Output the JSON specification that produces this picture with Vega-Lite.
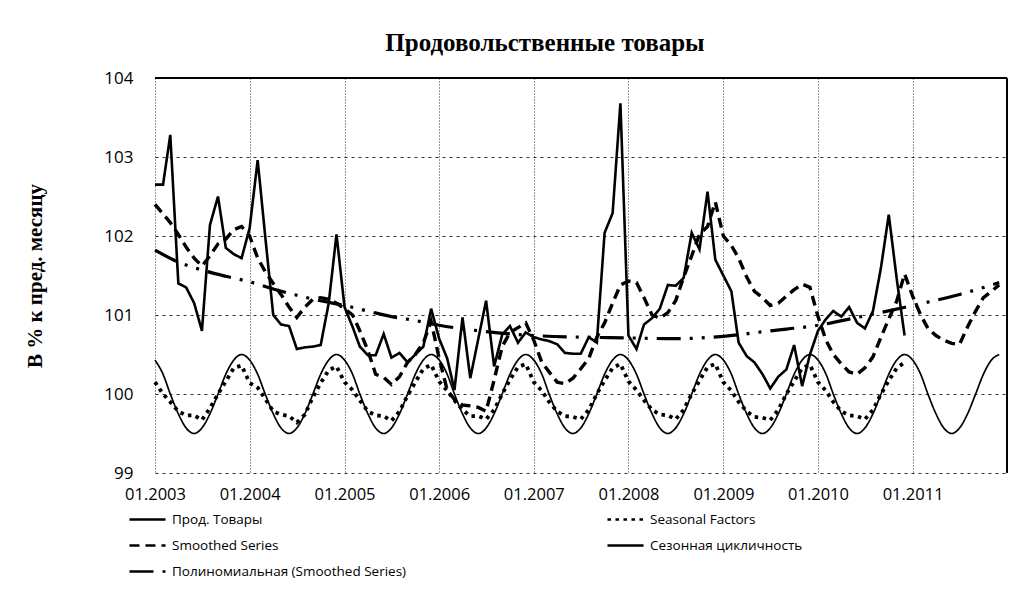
{
 "$schema": "https://vega.github.io/schema/vega-lite/v6.json",
 "width": 852, "height": 395,
 "autosize": {"type": "none"},
 "padding": {"left": 155, "top": 78, "right": 13, "bottom": 127},
 "background": "white",
 "title": {"text": "Продовольственные товары", "font": "Liberation Serif", "fontSize": 25, "fontWeight": "bold", "color": "#000", "anchor": "middle", "dx": -36, "offset": 13},
 "datasets": {
  "monthly": [
   {"m":"2003-01-01","p":102.65,"ss":102.40,"sf":100.15,"sc":100.43},
   {"m":"2003-02-01","p":102.65,"ss":102.28,"sf":100.0,"sc":100.25},
   {"m":"2003-03-01","p":103.28,"ss":102.17,"sf":99.9,"sc":100.0},
   {"m":"2003-04-01","p":101.4,"ss":102.02,"sf":99.78,"sc":99.75},
   {"m":"2003-05-01","p":101.35,"ss":101.86,"sf":99.73,"sc":99.57},
   {"m":"2003-06-01","p":101.15,"ss":101.72,"sf":99.73,"sc":99.5},
   {"m":"2003-07-01","p":100.8,"ss":101.62,"sf":99.67,"sc":99.57},
   {"m":"2003-08-01","p":102.14,"ss":101.75,"sf":99.82,"sc":99.75},
   {"m":"2003-09-01","p":102.5,"ss":101.9,"sf":100.0,"sc":100.0},
   {"m":"2003-10-01","p":101.85,"ss":101.96,"sf":100.16,"sc":100.25},
   {"m":"2003-11-01","p":101.77,"ss":102.08,"sf":100.33,"sc":100.43},
   {"m":"2003-12-01","p":101.72,"ss":102.12,"sf":100.36,"sc":100.5},
   {"m":"2004-01-01","p":102.1,"ss":102.0,"sf":100.14,"sc":100.43},
   {"m":"2004-02-01","p":102.96,"ss":101.72,"sf":100.08,"sc":100.25},
   {"m":"2004-03-01","p":102.0,"ss":101.55,"sf":99.94,"sc":100.0},
   {"m":"2004-04-01","p":101.0,"ss":101.4,"sf":99.78,"sc":99.75},
   {"m":"2004-05-01","p":100.88,"ss":101.26,"sf":99.74,"sc":99.57},
   {"m":"2004-06-01","p":100.86,"ss":101.1,"sf":99.72,"sc":99.5},
   {"m":"2004-07-01","p":100.57,"ss":100.97,"sf":99.64,"sc":99.57},
   {"m":"2004-08-01","p":100.59,"ss":101.1,"sf":99.74,"sc":99.75},
   {"m":"2004-09-01","p":100.6,"ss":101.2,"sf":99.96,"sc":100.0},
   {"m":"2004-10-01","p":100.62,"ss":101.22,"sf":100.14,"sc":100.25},
   {"m":"2004-11-01","p":101.15,"ss":101.2,"sf":100.3,"sc":100.43},
   {"m":"2004-12-01","p":102.02,"ss":101.15,"sf":100.35,"sc":100.5},
   {"m":"2005-01-01","p":101.1,"ss":101.08,"sf":100.15,"sc":100.43},
   {"m":"2005-02-01","p":100.85,"ss":101.0,"sf":100.05,"sc":100.25},
   {"m":"2005-03-01","p":100.6,"ss":100.8,"sf":99.92,"sc":100.0},
   {"m":"2005-04-01","p":100.49,"ss":100.55,"sf":99.78,"sc":99.75},
   {"m":"2005-05-01","p":100.49,"ss":100.25,"sf":99.73,"sc":99.57},
   {"m":"2005-06-01","p":100.76,"ss":100.21,"sf":99.72,"sc":99.5},
   {"m":"2005-07-01","p":100.46,"ss":100.12,"sf":99.66,"sc":99.57},
   {"m":"2005-08-01","p":100.52,"ss":100.22,"sf":99.78,"sc":99.75},
   {"m":"2005-09-01","p":100.4,"ss":100.4,"sf":99.98,"sc":100.0},
   {"m":"2005-10-01","p":100.5,"ss":100.5,"sf":100.15,"sc":100.25},
   {"m":"2005-11-01","p":100.6,"ss":100.65,"sf":100.32,"sc":100.43},
   {"m":"2005-12-01","p":101.08,"ss":100.92,"sf":100.37,"sc":100.5},
   {"m":"2006-01-01","p":100.7,"ss":100.45,"sf":100.16,"sc":100.43},
   {"m":"2006-02-01","p":100.45,"ss":100.05,"sf":100.04,"sc":100.25},
   {"m":"2006-03-01","p":100.05,"ss":99.93,"sf":99.92,"sc":100.0},
   {"m":"2006-04-01","p":100.97,"ss":99.86,"sf":99.8,"sc":99.75},
   {"m":"2006-05-01","p":100.2,"ss":99.85,"sf":99.72,"sc":99.57},
   {"m":"2006-06-01","p":100.7,"ss":99.83,"sf":99.72,"sc":99.5},
   {"m":"2006-07-01","p":101.18,"ss":99.78,"sf":99.68,"sc":99.57},
   {"m":"2006-08-01","p":100.35,"ss":100.18,"sf":99.8,"sc":99.75},
   {"m":"2006-09-01","p":100.75,"ss":100.6,"sf":100.0,"sc":100.0},
   {"m":"2006-10-01","p":100.86,"ss":100.78,"sf":100.18,"sc":100.25},
   {"m":"2006-11-01","p":100.65,"ss":100.84,"sf":100.34,"sc":100.43},
   {"m":"2006-12-01","p":100.78,"ss":100.9,"sf":100.38,"sc":100.5},
   {"m":"2007-01-01","p":100.72,"ss":100.68,"sf":100.15,"sc":100.43},
   {"m":"2007-02-01","p":100.69,"ss":100.4,"sf":100.04,"sc":100.25},
   {"m":"2007-03-01","p":100.67,"ss":100.28,"sf":99.9,"sc":100.0},
   {"m":"2007-04-01","p":100.63,"ss":100.15,"sf":99.78,"sc":99.75},
   {"m":"2007-05-01","p":100.52,"ss":100.13,"sf":99.72,"sc":99.57},
   {"m":"2007-06-01","p":100.51,"ss":100.2,"sf":99.71,"sc":99.5},
   {"m":"2007-07-01","p":100.51,"ss":100.32,"sf":99.68,"sc":99.57},
   {"m":"2007-08-01","p":100.72,"ss":100.45,"sf":99.8,"sc":99.75},
   {"m":"2007-09-01","p":100.65,"ss":100.72,"sf":100.0,"sc":100.0},
   {"m":"2007-10-01","p":102.04,"ss":100.9,"sf":100.17,"sc":100.25},
   {"m":"2007-11-01","p":102.29,"ss":101.15,"sf":100.33,"sc":100.43},
   {"m":"2007-12-01","p":103.68,"ss":101.38,"sf":100.38,"sc":100.5},
   {"m":"2008-01-01","p":100.74,"ss":101.43,"sf":100.16,"sc":100.43},
   {"m":"2008-02-01","p":100.57,"ss":101.41,"sf":100.05,"sc":100.25},
   {"m":"2008-03-01","p":100.88,"ss":101.22,"sf":99.92,"sc":100.0},
   {"m":"2008-04-01","p":100.96,"ss":101.0,"sf":99.8,"sc":99.75},
   {"m":"2008-05-01","p":101.08,"ss":100.96,"sf":99.74,"sc":99.57},
   {"m":"2008-06-01","p":101.38,"ss":101.03,"sf":99.73,"sc":99.5},
   {"m":"2008-07-01","p":101.37,"ss":101.18,"sf":99.68,"sc":99.57},
   {"m":"2008-08-01","p":101.47,"ss":101.48,"sf":99.8,"sc":99.75},
   {"m":"2008-09-01","p":102.04,"ss":101.75,"sf":100.0,"sc":100.0},
   {"m":"2008-10-01","p":101.83,"ss":102.02,"sf":100.17,"sc":100.25},
   {"m":"2008-11-01","p":102.56,"ss":102.12,"sf":100.34,"sc":100.43},
   {"m":"2008-12-01","p":101.7,"ss":102.43,"sf":100.38,"sc":100.5},
   {"m":"2009-01-01","p":101.5,"ss":102.0,"sf":100.15,"sc":100.43},
   {"m":"2009-02-01","p":101.3,"ss":101.88,"sf":100.04,"sc":100.25},
   {"m":"2009-03-01","p":100.65,"ss":101.72,"sf":99.9,"sc":100.0},
   {"m":"2009-04-01","p":100.48,"ss":101.48,"sf":99.78,"sc":99.75},
   {"m":"2009-05-01","p":100.4,"ss":101.3,"sf":99.71,"sc":99.57},
   {"m":"2009-06-01","p":100.25,"ss":101.22,"sf":99.7,"sc":99.5},
   {"m":"2009-07-01","p":100.07,"ss":101.12,"sf":99.67,"sc":99.57},
   {"m":"2009-08-01","p":100.22,"ss":101.15,"sf":99.8,"sc":99.75},
   {"m":"2009-09-01","p":100.31,"ss":101.24,"sf":100.0,"sc":100.0},
   {"m":"2009-10-01","p":100.62,"ss":101.32,"sf":100.16,"sc":100.25},
   {"m":"2009-11-01","p":100.1,"ss":101.39,"sf":100.33,"sc":100.43},
   {"m":"2009-12-01","p":100.5,"ss":101.35,"sf":100.37,"sc":100.5},
   {"m":"2010-01-01","p":100.8,"ss":100.98,"sf":100.15,"sc":100.43},
   {"m":"2010-02-01","p":100.95,"ss":100.68,"sf":100.04,"sc":100.25},
   {"m":"2010-03-01","p":101.05,"ss":100.5,"sf":99.9,"sc":100.0},
   {"m":"2010-04-01","p":100.98,"ss":100.38,"sf":99.78,"sc":99.75},
   {"m":"2010-05-01","p":101.1,"ss":100.28,"sf":99.73,"sc":99.57},
   {"m":"2010-06-01","p":100.9,"ss":100.25,"sf":99.72,"sc":99.5},
   {"m":"2010-07-01","p":100.83,"ss":100.33,"sf":99.68,"sc":99.57},
   {"m":"2010-08-01","p":101.05,"ss":100.47,"sf":99.8,"sc":99.75},
   {"m":"2010-09-01","p":101.6,"ss":100.72,"sf":100.0,"sc":100.0},
   {"m":"2010-10-01","p":102.27,"ss":100.95,"sf":100.17,"sc":100.25},
   {"m":"2010-11-01","p":101.45,"ss":101.18,"sf":100.33,"sc":100.43},
   {"m":"2010-12-01","p":100.74,"ss":101.52,"sf":100.4,"sc":100.5},
   {"m":"2011-01-01","p":null,"ss":101.24,"sf":null,"sc":100.43},
   {"m":"2011-02-01","p":null,"ss":101.0,"sf":null,"sc":100.25},
   {"m":"2011-03-01","p":null,"ss":100.83,"sf":null,"sc":100.0},
   {"m":"2011-04-01","p":null,"ss":100.74,"sf":null,"sc":99.75},
   {"m":"2011-05-01","p":null,"ss":100.68,"sf":null,"sc":99.57},
   {"m":"2011-06-01","p":null,"ss":100.64,"sf":null,"sc":99.5},
   {"m":"2011-07-01","p":null,"ss":100.63,"sf":null,"sc":99.57},
   {"m":"2011-08-01","p":null,"ss":100.85,"sf":null,"sc":99.75},
   {"m":"2011-09-01","p":null,"ss":101.05,"sf":null,"sc":100.0},
   {"m":"2011-10-01","p":null,"ss":101.22,"sf":null,"sc":100.25},
   {"m":"2011-11-01","p":null,"ss":101.3,"sf":null,"sc":100.43},
   {"m":"2011-12-01","p":null,"ss":101.38,"sf":null,"sc":100.5}
  ],
  "poly": [
   {"m":"2003-01-01","poly":101.82},{"m":"2003-04-01","poly":101.67},{"m":"2003-07-01","poly":101.57},{"m":"2003-10-01","poly":101.49},
   {"m":"2004-01-01","poly":101.42},{"m":"2004-04-01","poly":101.33},{"m":"2004-07-01","poly":101.25},{"m":"2004-10-01","poly":101.18},
   {"m":"2005-01-01","poly":101.12},{"m":"2005-04-01","poly":101.05},{"m":"2005-07-01","poly":100.98},{"m":"2005-10-01","poly":100.93},
   {"m":"2006-01-01","poly":100.87},{"m":"2006-07-01","poly":100.79},{"m":"2007-01-01","poly":100.74},{"m":"2007-07-01","poly":100.72},
   {"m":"2008-01-01","poly":100.71},{"m":"2008-07-01","poly":100.70},{"m":"2009-01-01","poly":100.73},{"m":"2009-07-01","poly":100.8},
   {"m":"2010-01-01","poly":100.87},{"m":"2010-07-01","poly":100.99},{"m":"2011-01-01","poly":101.12},{"m":"2011-07-01","poly":101.26},
   {"m":"2011-12-01","poly":101.41}
  ],
  "frame": [{"top": 104, "right": "2011-12-31"}]
 },
 "encoding": {
  "x": {"field": "m", "type": "temporal", "scale": {"domain": [{"year": 2003, "month": 1, "date": 1}, {"year": 2011, "month": 12, "date": 31}]}, "axis": {"title": null}},
  "y": {"field": "val", "type": "quantitative", "scale": {"domain": [99, 104], "nice": false, "zero": false}, "axis": {"title": "В % к пред. месяцу", "values": [99, 100, 101, 102, 103, 104]}}
 },
 "layer": [
  {
   "data": {"name": "monthly"},
   "transform": [{"fold": ["p"], "as": ["key", "val"]}],
   "mark": {"type": "line", "color": "#000", "strokeWidth": 2.6},
   "encoding": {
    "strokeDash": {"field": "key", "type": "nominal",
      "scale": {"domain": ["p", "sf", "ss", "sc", "poly"], "range": [[1, 0], [3.5, 4.5], [10, 6], [1, 0], [24, 9, 3, 9, 3, 9]]},
      "legend": {"title": null, "orient": "none", "legendX": -27, "legendY": 422, "direction": "horizontal", "columns": 2, "columnPadding": 195, "rowPadding": -18,
        "symbolType": "stroke", "symbolSize": 1300, "symbolStrokeColor": "#000", "symbolStrokeWidth": 2.6, "labelFont": "Open Sans", "labelFontSize": 13.5, "labelColor": "#000", "labelLimit": 400, "labelOffset": 5,
        "labelExpr": "datum.label == 'p' ? 'Прод. Товары' : datum.label == 'sf' ? 'Seasonal Factors' : datum.label == 'ss' ? 'Smoothed Series' : datum.label == 'sc' ? 'Сезонная цикличность' : 'Полиномиальная (Smoothed Series)'"}}
   }
  },
  {
   "data": {"name": "monthly"},
   "transform": [{"fold": ["ss"], "as": ["key", "val"]}],
   "mark": {"type": "line", "color": "#000", "strokeWidth": 3.4, "strokeCap": "butt"},
   "encoding": {"strokeDash": {"field": "key", "type": "nominal"}}
  },
  {
   "data": {"name": "monthly"},
   "transform": [{"fold": ["sf"], "as": ["key", "val"]}],
   "mark": {"type": "line", "color": "#000", "strokeWidth": 3.8, "strokeCap": "butt"},
   "encoding": {"strokeDash": {"field": "key", "type": "nominal"}}
  },
  {
   "data": {"name": "monthly"},
   "transform": [{"fold": ["sc"], "as": ["key", "val"]}],
   "mark": {"type": "line", "color": "#000", "strokeWidth": 1.7, "interpolate": "monotone"},
   "encoding": {"strokeDash": {"field": "key", "type": "nominal"}}
  },
  {
   "data": {"name": "poly"},
   "transform": [{"fold": ["poly"], "as": ["key", "val"]}],
   "mark": {"type": "line", "color": "#000", "strokeWidth": 3.2, "interpolate": "monotone", "strokeCap": "butt"},
   "encoding": {"strokeDash": {"field": "key", "type": "nominal"}}
  },
  {
   "data": {"name": "frame"},
   "mark": {"type": "rule", "color": "#000", "strokeWidth": 2},
   "encoding": {"x": null, "y": {"field": "top", "type": "quantitative"}}
  },
  {
   "data": {"name": "frame"},
   "mark": {"type": "rule", "color": "#000", "strokeWidth": 2},
   "encoding": {"y": null, "x": {"field": "right", "type": "temporal"}}
  }
 ],
 "config": {
  "view": {"stroke": null},
  "font": "Open Sans",
  "axisX": {"format": "%m.%Y", "tickCount": {"interval": "year", "step": 1}, "grid": true, "gridDash": [1, 2], "gridColor": "#000", "gridOpacity": 0.8, "domain": false, "ticks": false, "labelFont": "Open Sans", "labelFontSize": 16.5, "labelColor": "#000", "labelPadding": 13, "labelFlush": false},
  "axisY": {"grid": true, "gridDash": [3, 4], "gridColor": "#000", "gridOpacity": 0.8, "domain": false, "ticks": false, "labelFont": "Open Sans", "labelFontSize": 17, "labelColor": "#000", "labelPadding": 22, "titleFont": "Liberation Serif", "titleFontSize": 21, "titleFontWeight": "bold", "titleColor": "#000", "titlePadding": 58}
 }
}
